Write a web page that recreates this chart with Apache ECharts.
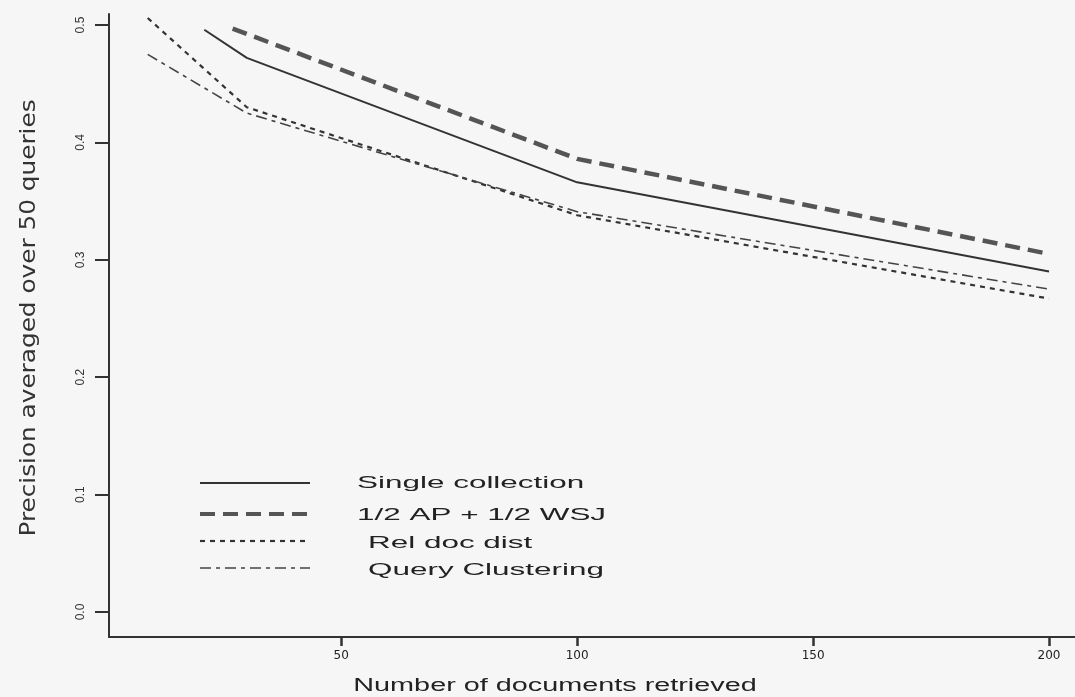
<!DOCTYPE html>
<html>
<head>
<meta charset="utf-8">
<script src="https://cdn.jsdelivr.net/npm/echarts@6/dist/echarts.min.js"></script>
<style>
  html, body { margin: 0; padding: 0; background: #f6f6f6; }
  #chart { width: 1075px; height: 697px; }
</style>
</head>
<body>
<div id="chart"></div>
<script>
// Precision at N documents retrieved, averaged over 50 queries
const docsSingle = [21, 30, 100, 200];
const precSingle = [0.496, 0.472, 0.366, 0.290];

const docsSplit = [27, 100, 200];
const precSplit = [0.497, 0.386, 0.305];

const docsRelDoc = [9, 30, 100, 200];
const precRelDoc = [0.506, 0.430, 0.338, 0.267];

const docsQuery = [9, 30, 100, 200];
const precQuery = [0.475, 0.425, 0.341, 0.275];

const xTicks = [50, 100, 150, 200];
const yTicks = [0.0, 0.1, 0.2, 0.3, 0.4, 0.5];

const seriesNames = ['Single collection', '1/2 AP + 1/2 WSJ', 'Rel doc dist', 'Query Clustering'];

const zip = (xs, ys) => xs.map((x, i) => [x, ys[i]]);

const ink = '#333';
const styles = [
  { color: '#333', width: 2, type: 'solid' },
  { color: '#555', width: 4.5, type: [15, 8] },
  { color: '#333', width: 2.2, type: [5, 5] },
  { color: '#444', width: 1.6, type: [11, 5, 4, 5] }
];
const dataSets = [
  zip(docsSingle, precSingle),
  zip(docsSplit, precSplit),
  zip(docsRelDoc, precRelDoc),
  zip(docsQuery, precQuery)
];

const chart = echarts.init(document.getElementById('chart'), null, { renderer: 'canvas' });

// hand-drawn key in the lower left of the plot
const keyRows = [
  { y: 483, textX: 357, textY: 483 },
  { y: 514, textX: 357, textY: 515 },
  { y: 541, textX: 368, textY: 543 },
  { y: 568, textX: 368, textY: 570 }
];
const keyGraphics = [];
keyRows.forEach((r, i) => {
  keyGraphics.push({
    type: 'line',
    shape: { x1: 200, y1: r.y, x2: 310, y2: r.y },
    style: { stroke: styles[i].color, lineWidth: Math.min(styles[i].width, 4), lineDash: styles[i].type === 'solid' ? null : styles[i].type }
  });
  keyGraphics.push({
    type: 'text',
    x: r.textX, y: r.textY,
    scaleX: 1.85,
    style: {
      text: seriesNames[i],
      font: '17px "Liberation Sans", Arial, sans-serif',
      fill: '#222',
      textAlign: 'left',
      textVerticalAlign: 'middle'
    }
  });
});

chart.setOption({
  backgroundColor: '#f6f6f6',
  animation: false,
  grid: { left: 109, right: 0, top: 14, bottom: 60, containLabel: false },
  xAxis: {
    type: 'value',
    min: 0.8,
    max: 205.5,
    axisLine: { show: true, onZero: false, lineStyle: { color: ink, width: 2 } },
    axisTick: { show: true, customValues: xTicks, length: 9, lineStyle: { color: ink, width: 2.5 } },
    axisLabel: { customValues: xTicks, fontSize: 12, margin: 13, color: '#222', fontFamily: '"DejaVu Sans", sans-serif' },
    splitLine: { show: false }
  },
  yAxis: {
    type: 'value',
    min: -0.0213,
    max: 0.5094,
    axisLine: { show: true, onZero: false, lineStyle: { color: ink, width: 2 } },
    axisTick: { show: true, customValues: yTicks, length: 14, lineStyle: { color: ink, width: 2 } },
    axisLabel: {
      customValues: yTicks, rotate: 90, fontSize: 12, margin: 22, color: '#333',
      fontFamily: '"Liberation Sans", Arial, sans-serif',
      formatter: v => v.toFixed(1)
    },
    splitLine: { show: false }
  },
  series: seriesNames.map((name, i) => ({
    name: name,
    type: 'line',
    data: dataSets[i],
    symbol: 'none',
    clip: true,
    lineStyle: { color: styles[i].color, width: styles[i].width, type: styles[i].type, cap: 'butt' }
  })),
  graphic: [
    {
      type: 'text',
      x: 29, y: 318,
      rotation: Math.PI / 2,
      scaleX: 1.25,
      style: {
        text: 'Precision averaged over 50 queries',
        font: '22px "Liberation Sans Narrow", "DejaVu Sans Condensed", "Liberation Sans", sans-serif',
        fill: '#333',
        textAlign: 'center',
        textVerticalAlign: 'middle'
      }
    },
    {
      type: 'text',
      x: 555, y: 686,
      scaleX: 1.6,
      style: {
        text: 'Number of documents retrieved',
        font: '18px "Liberation Sans", Arial, sans-serif',
        fill: '#222',
        textAlign: 'center',
        textVerticalAlign: 'middle'
      }
    }
  ].concat(keyGraphics)
});
</script>
</body>
</html>
